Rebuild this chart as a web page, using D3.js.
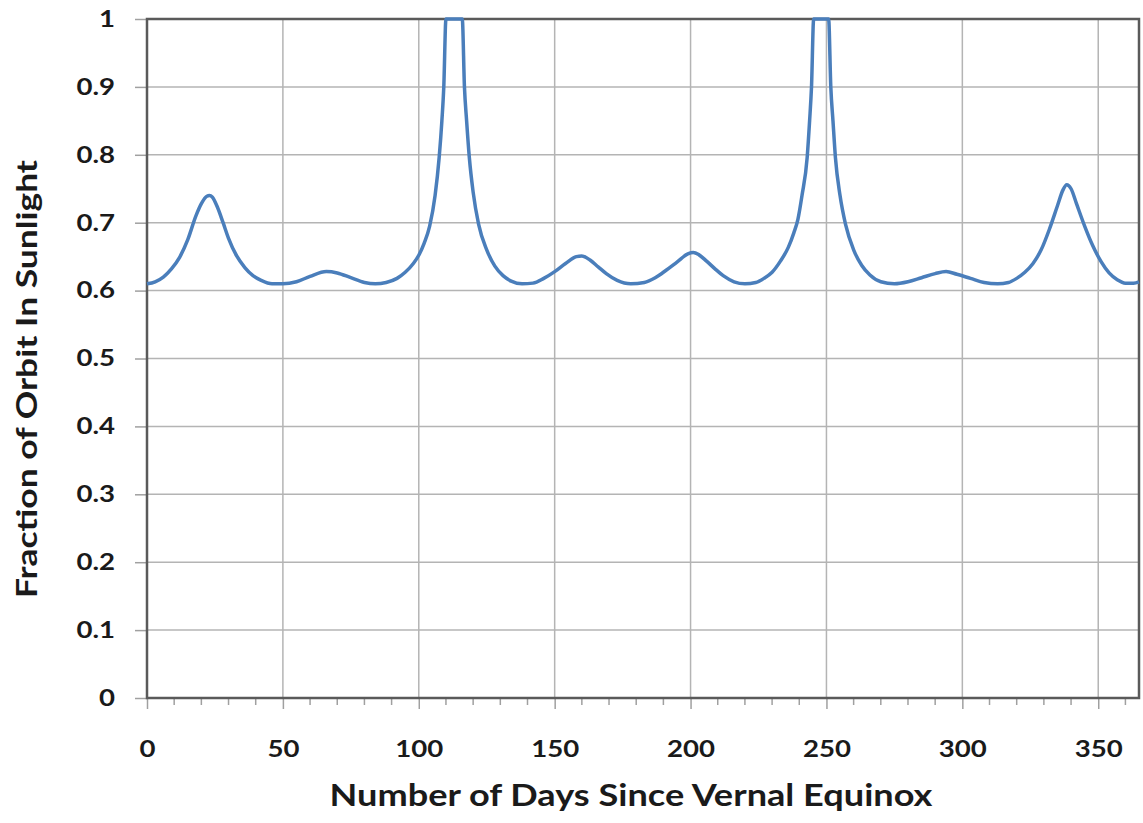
<!DOCTYPE html>
<html>
<head>
<meta charset="utf-8">
<script src="https://cdn.jsdelivr.net/npm/d3@7"></script>
<style>
  body { margin: 0; background: #fff; }
  text { font-family: Lato, "Open Sans", sans-serif; font-weight: bold; fill: #1a1a1a; }
</style>
</head>
<body>
<div id="chart"></div>
<script>
var width = 1143,
    height = 823;

var margin = {top: 19, right: 4, bottom: 125, left: 147};

// days since vernal equinox
var days = [0, 3, 6, 9, 12, 15, 18, 20, 22, 23, 24, 26, 28, 30, 33, 36, 39, 42, 46,
  50, 55, 60, 66, 70, 75, 80, 84, 88, 92, 95, 98, 100, 102, 104, 106, 107.5, 108.5,
  109.2, 110, 116, 116.8, 117.6, 118.6, 120, 122, 125, 128, 131, 134, 138, 142, 146,
  150, 154, 158, 160, 163, 166, 169, 173, 178, 183, 187, 191, 195, 199, 201, 203, 206,
  209, 212, 216, 220, 224, 227, 230, 233, 236, 238, 239.5, 241, 242.9, 243.8, 244.5,
  245.3, 250.8, 251.6, 252.4, 253.3, 255, 257, 260, 263, 266, 270, 275, 280, 285, 290,
  294, 298, 303, 308, 313, 317, 320, 323, 326, 329, 332, 335, 337, 338.4, 340, 342, 345,
  348, 351, 354, 357, 360, 363, 365];

// fraction of orbit in sunlight
var sunlight = [0.610, 0.613, 0.620, 0.632, 0.649, 0.675, 0.710, 0.728, 0.739, 0.740,
  0.738, 0.722, 0.700, 0.677, 0.651, 0.634, 0.622, 0.615, 0.610,
  0.610, 0.613, 0.621, 0.628, 0.626, 0.619, 0.612, 0.610, 0.612, 0.618, 0.627, 0.640,
  0.652, 0.670, 0.695, 0.740, 0.796, 0.850,
  0.900, 1.0, 1.0, 0.900, 0.850, 0.796, 0.745, 0.698, 0.660, 0.636, 0.622, 0.614, 0.610,
  0.611, 0.618,
  0.628, 0.640, 0.650, 0.651, 0.645, 0.635, 0.625, 0.615, 0.610, 0.612, 0.619, 0.630,
  0.642, 0.654, 0.656, 0.653, 0.643,
  0.632, 0.622, 0.613, 0.610, 0.612, 0.618, 0.627, 0.643, 0.664, 0.685, 0.705, 0.740,
  0.796, 0.850, 0.900,
  1.0, 1.0, 0.900, 0.850, 0.796, 0.740, 0.698, 0.660, 0.637, 0.623, 0.613, 0.610, 0.613,
  0.619, 0.625,
  0.628, 0.624, 0.618, 0.612, 0.610, 0.612, 0.618, 0.627, 0.640, 0.660, 0.690, 0.725,
  0.748, 0.756, 0.750, 0.728, 0.695,
  0.666, 0.643, 0.626, 0.616, 0.611, 0.611, 0.613];

var xTicks = [0, 50, 100, 150, 200, 250, 300, 350],
    xMinorTicks = d3.range(0, 366, 10),
    yTicks = [0, 0.1, 0.2, 0.3, 0.4, 0.5, 0.6, 0.7, 0.8, 0.9, 1];

var xTitle = "Number of Days Since Vernal Equinox",
    yTitle = "Fraction of Orbit In Sunlight";

var data = days.map(function(d, i) { return {day: d, v: sunlight[i]}; });

// the original lettering is a bit wide, so stretch it sideways
var stretch = 1.2;

var x = d3.scaleLinear()
  .domain([0, 365])
  .range([margin.left, width - margin.right]);
var y = d3.scaleLinear()
  .domain([0, 1])
  .range([height - margin.bottom, margin.top]);

var svg = d3.select("#chart")
  .append("svg")
  .attr("width", width)
  .attr("height", height);

// gridlines
svg.append("g")
  .selectAll("line")
  .data(yTicks.slice(1))
  .join("line")
  .attr("x1", x(0)).attr("x2", x(365))
  .attr("y1", function(d) { return y(d); })
  .attr("y2", function(d) { return y(d); })
  .style("stroke", "#b4b4b4")
  .style("stroke-width", "1.5px");

svg.append("g")
  .selectAll("line")
  .data(xTicks.slice(1))
  .join("line")
  .attr("y1", y(0)).attr("y2", y(1))
  .attr("x1", function(d) { return x(d); })
  .attr("x2", function(d) { return x(d); })
  .style("stroke", "#b4b4b4")
  .style("stroke-width", "1.5px");

// minor ticks on the x axis
svg.append("g")
  .selectAll("line")
  .data(xMinorTicks.filter(function(d) { return d % 50 !== 0; }))
  .join("line")
  .attr("x1", function(d) { return x(d); })
  .attr("x2", function(d) { return x(d); })
  .attr("y1", y(0)).attr("y2", y(0) + 7)
  .style("stroke", "#a0a0a0")
  .style("stroke-width", "1.5px");

// axes
var xAxis = d3.axisBottom(x)
  .tickValues(xTicks)
  .tickSizeInner(11)
  .tickSizeOuter(0)
  .tickFormat(d3.format("d"));

var yAxis = d3.axisLeft(y)
  .tickValues(yTicks)
  .tickSizeInner(12)
  .tickSizeOuter(0)
  .tickFormat(function(d) { return d === 0 || d === 1 ? d : d3.format(".1f")(d); });

var gx = svg.append("g")
  .attr("transform", "translate(0," + y(0) + ")")
  .call(xAxis);
gx.selectAll(".tick line").style("stroke", "#a0a0a0").style("stroke-width", "1.5px");
gx.selectAll("text")
  .style("font-size", "23px")
  .attr("y", 59)
  .attr("dy", 0)
  .attr("transform", "scale(" + stretch + ",1)");
gx.select(".domain").remove();

var gy = svg.append("g")
  .attr("transform", "translate(" + x(0) + ",0)")
  .call(yAxis);
gy.selectAll(".tick line").style("stroke", "#a0a0a0").style("stroke-width", "1.5px");
gy.selectAll("text")
  .style("font-size", "23px")
  .attr("x", -32 / stretch)
  .attr("transform", "scale(" + stretch + ",1)");
gy.select(".domain").remove();

// plot border
svg.append("rect")
  .attr("x", x(0))
  .attr("y", y(1))
  .attr("width", x(365) - x(0))
  .attr("height", y(0) - y(1))
  .style("fill", "none")
  .style("stroke", "#5a5a5a")
  .style("stroke-width", "2.5px");

// curve
var line = d3.line()
  .x(function(d) { return x(d.day); })
  .y(function(d) { return y(d.v); })
  .curve(d3.curveMonotoneX);

svg.append("path")
  .datum(data)
  .attr("d", line)
  .style("fill", "none")
  .style("stroke", "#4a7ebb")
  .style("stroke-width", "3.5px")
  .style("stroke-linejoin", "round");

// titles
svg.append("text")
  .attr("x", 631)
  .attr("y", 806)
  .attr("text-anchor", "middle")
  .attr("textLength", 603)
  .attr("lengthAdjust", "spacingAndGlyphs")
  .style("font-size", "30px")
  .text(xTitle);

svg.append("text")
  .attr("transform", "translate(37,379) rotate(-90)")
  .attr("text-anchor", "middle")
  .attr("textLength", 438)
  .attr("lengthAdjust", "spacingAndGlyphs")
  .style("font-size", "28px")
  .text(yTitle);
</script>
</body>
</html>
